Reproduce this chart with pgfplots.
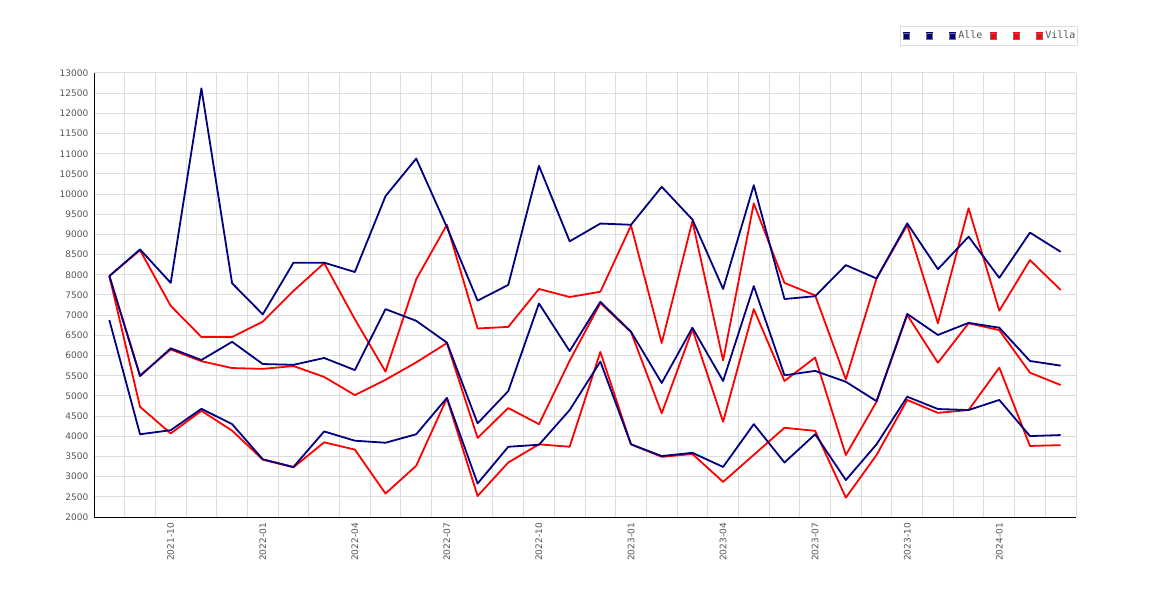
\documentclass[border=0pt]{standalone}
\usepackage{fontspec}
\setmainfont{DejaVu Sans}
\newfontfamily\monof{DejaVu Sans Mono}
\usepackage{pgfplots}
\pgfplotsset{compat=1.18}
\usepackage{pgfplotstable}
\definecolor{navyc}{HTML}{000080}
\definecolor{redc}{HTML}{FF0000}
\definecolor{gridc}{HTML}{DDDDDD}
\definecolor{txt}{HTML}{555555}

\pgfplotstableread{
i  A1    A2   A3   V1   V2   V3
0  7970  7970 6880 7970 7970 7970
1  8630  5490 4050 8610 5510 4730
2  7800  6180 4150 7230 6150 4070
3  12620 5890 4680 6460 5860 4630
4  7790  6340 4300 6460 5690 4140
5  7020  5790 3430 6840 5670 3420
6  8300  5770 3240 7600 5740 3230
7  8300  5940 4120 8290 5470 3850
8  8070  5640 3890 6900 5020 3670
9  9950  7150 3840 5600 5400 2580
10 10880 6860 4050 7890 5830 3270
11 9180  6320 4950 9240 6310 4940
12 7360  4320 2830 6670 3960 2520
13 7750  5120 3740 6710 4700 3350
14 10700 7290 3790 7650 4300 3800
15 8830  6110 4650 7450 5870 3740
16 9270  7330 5850 7580 7300 6090
17 9240  6590 3800 9220 6580 3800
18 10180 5320 3510 6310 4570 3490
19 9370  6690 3590 9330 6650 3560
20 7650  5370 3240 5880 4360 2870
21 10220 7720 4300 9770 7150 3540
22 7400  5510 3350 7800 5370 4210
23 7470  5620 4050 7490 5950 4135
24 8240  5350 2915 5410 3535 2480
25 7910  4870 3800 7910 4855 3535
26 9275  7030 4980 9235 7005 4900
27 8140  6510 4675 6800 5820 4580
28 8945  6810 4650 9650 6800 4650
29 7925  6690 4900 7110 6630 5700
30 9045  5865 4005 8365 5575 3760
31 8570  5750 4030 7625 5270 3780
}\data

\begin{document}
\begin{tikzpicture}
\useasboundingbox (0,0) rectangle (1170pt,600pt);
\begin{axis}[
  at={(94pt,83pt)}, anchor=south west,
  width=982pt, height=444pt, scale only axis,
  xmin=-0.5, xmax=31.5, ymin=2000, ymax=13000,
  ytick={2000,2500,...,13000},
  xtick={2,5,...,29},
  xticklabels={2021-10,2022-01,2022-04,2022-07,2022-10,2023-01,2023-04,2023-07,2023-10,2024-01},
  minor xtick={0.5,1.5,...,31.5},
  xminorgrids=true, ymajorgrids=true, xmajorgrids=false,
  grid style={gridc, line width=1pt},
  minor grid style={gridc, line width=1pt},
  major tick length=0pt, minor tick length=0pt,
  axis lines=left, axis line style={-, black, line width=1pt},
  scaled ticks=false,
  /pgf/number format/1000 sep={},
  /pgf/number format/assume math mode=true,
  tick label style={font=\fontsize{9}{10}\selectfont, text=txt, inner sep=0pt},
  yticklabel shift=5.5pt,
  xticklabel style={rotate=90, anchor=east},
  xticklabel shift=6pt,
  legend columns=6,
  legend cell align=left,
  legend image code/.code={%
    \fill[#1] (0pt,-3pt) rectangle (6pt,3pt);
    \draw[line width=0.6pt, draw=black!55] (0pt,-3pt) rectangle (6pt,3pt);},
  legend style={at={(1,1)}, anchor=south east, yshift=27pt, xshift=2pt,
    draw=gridc, line width=1pt, fill=white,
    font=\monof\fontsize{10}{12}\selectfont, text=txt,
    inner xsep=2pt, inner ysep=5pt,
    nodes={inner sep=0pt},
    /tikz/every odd column/.append style={column sep=2.7pt},
    /tikz/every even column/.append style={column sep=7.3pt}},
]
\addlegendimage{navyc}\addlegendentry{\hspace*{6pt}}
\addlegendimage{navyc}\addlegendentry{\hspace*{6pt}}
\addlegendimage{navyc}\addlegendentry{Alle}
\addlegendimage{redc}\addlegendentry{\hspace*{6pt}}
\addlegendimage{redc}\addlegendentry{\hspace*{6pt}}
\addlegendimage{redc}\addlegendentry{Villa}

\addplot[redc, line width=1.8pt, line join=round, forget plot] table[x=i,y=V1]{\data};
\addplot[redc, line width=1.8pt, line join=round, forget plot] table[x=i,y=V2]{\data};
\addplot[redc, line width=1.8pt, line join=round, forget plot] table[x=i,y=V3]{\data};
\addplot[navyc, line width=1.8pt, line join=round, forget plot] table[x=i,y=A1]{\data};
\addplot[navyc, line width=1.8pt, line join=round, forget plot] table[x=i,y=A2]{\data};
\addplot[navyc, line width=1.8pt, line join=round, forget plot] table[x=i,y=A3]{\data};
\end{axis}
\end{tikzpicture}
\end{document}
